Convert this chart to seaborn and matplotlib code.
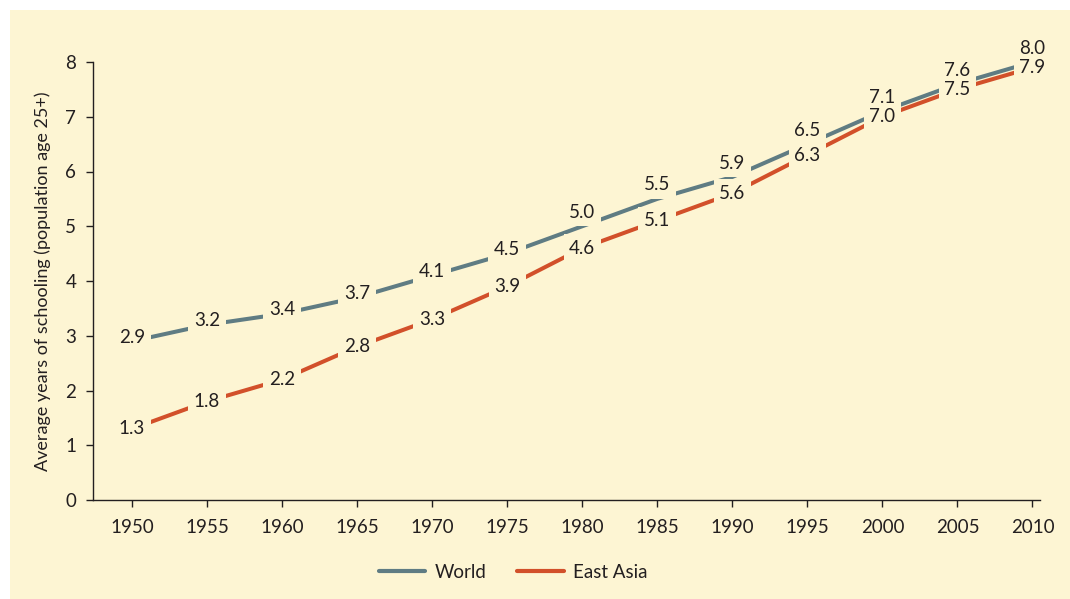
import pandas as pd
import matplotlib
matplotlib.use("Agg")
import matplotlib.pyplot as plt
import seaborn as sns
from matplotlib.patches import Rectangle

years = [1950, 1955, 1960, 1965, 1970, 1975, 1980, 1985, 1990, 1995, 2000, 2005, 2010]
world = [2.9, 3.2, 3.4, 3.7, 4.1, 4.5, 5.0, 5.5, 5.9, 6.5, 7.1, 7.6, 8.0]
east_asia = [1.3, 1.8, 2.2, 2.8, 3.3, 3.9, 4.6, 5.1, 5.6, 6.3, 7.0, 7.5, 7.9]
series_names = ["World", "East Asia"]

bg = "#fdf5d3"
ink = "#231f20"
palette = {"World": "#5f7c83", "East Asia": "#d2502a"}

df = pd.DataFrame({
    "year": years * 2,
    "value": world + east_asia,
    "series": [series_names[0]] * len(years) + [series_names[1]] * len(years),
})

sns.set_style("ticks")
plt.rcParams["font.family"] = ["Lato", "DejaVu Sans"]

fig = plt.figure(figsize=(10.7, 5.99), dpi=100, facecolor="white")
fig.patches.append(Rectangle((10 / 1070, 0.0), 1.0, 1 - 10 / 599, transform=fig.transFigure,
                             facecolor=bg, edgecolor="none", zorder=-10))
ax = fig.add_axes([93 / 1070, 1 - 500 / 599, (1040 - 93) / 1070, (500 - 62) / 599])
ax.set_facecolor(bg)
ax.patch.set_alpha(0)

sns.lineplot(data=df, x="year", y="value", hue="series", palette=palette,
             linewidth=2.9, ax=ax, legend=False)

# value labels sit on the line; a background box (drawn under all texts) breaks the line
for i, yr in enumerate(years):
    close = (world[i] - east_asia[i]) < 0.5
    for vals, dy in ((world, 10 if close else 3), (east_asia, 0)):
        lbl = f"{vals[i]:.1f}"
        ax.annotate(lbl, (yr, vals[i]), xytext=(0, dy), textcoords="offset points",
                    ha="center", va="center", fontsize=13.5, color=bg, zorder=4,
                    bbox=dict(boxstyle="square,pad=0.3", facecolor=bg, edgecolor="none"))
        ax.annotate(lbl, (yr, vals[i]), xytext=(0, dy), textcoords="offset points",
                    ha="center", va="center", fontsize=13.5, color=ink, zorder=6)

ax.set_xlim(1947.4, 2010.5)
ax.set_ylim(0, 8)
ax.set_xticks(years)
ax.set_yticks(range(0, 9))
ax.set_xlabel("")
ax.set_ylabel("Average years of schooling (population age 25+)", fontsize=13, color=ink, labelpad=10)
ax.tick_params(axis="both", colors=ink, labelsize=13.5, length=5, width=1)
ax.tick_params(axis="x", pad=9)
ax.tick_params(axis="y", pad=7)
for s in ["top", "right"]:
    ax.spines[s].set_visible(False)
for s in ["left", "bottom"]:
    ax.spines[s].set_color(ink)
    ax.spines[s].set_linewidth(1)

handles = [plt.Line2D([], [], color=palette[n], linewidth=3, solid_capstyle="round") for n in series_names]
fig.legend(handles, series_names, loc="center", bbox_to_anchor=(513 / 1070, 1 - 572 / 599), ncol=2,
           frameon=False, fontsize=13.5, handlelength=2.5, handletextpad=0.5, columnspacing=1.6,
           labelcolor=ink)

fig.savefig("out.png", dpi=100, facecolor=fig.get_facecolor())
